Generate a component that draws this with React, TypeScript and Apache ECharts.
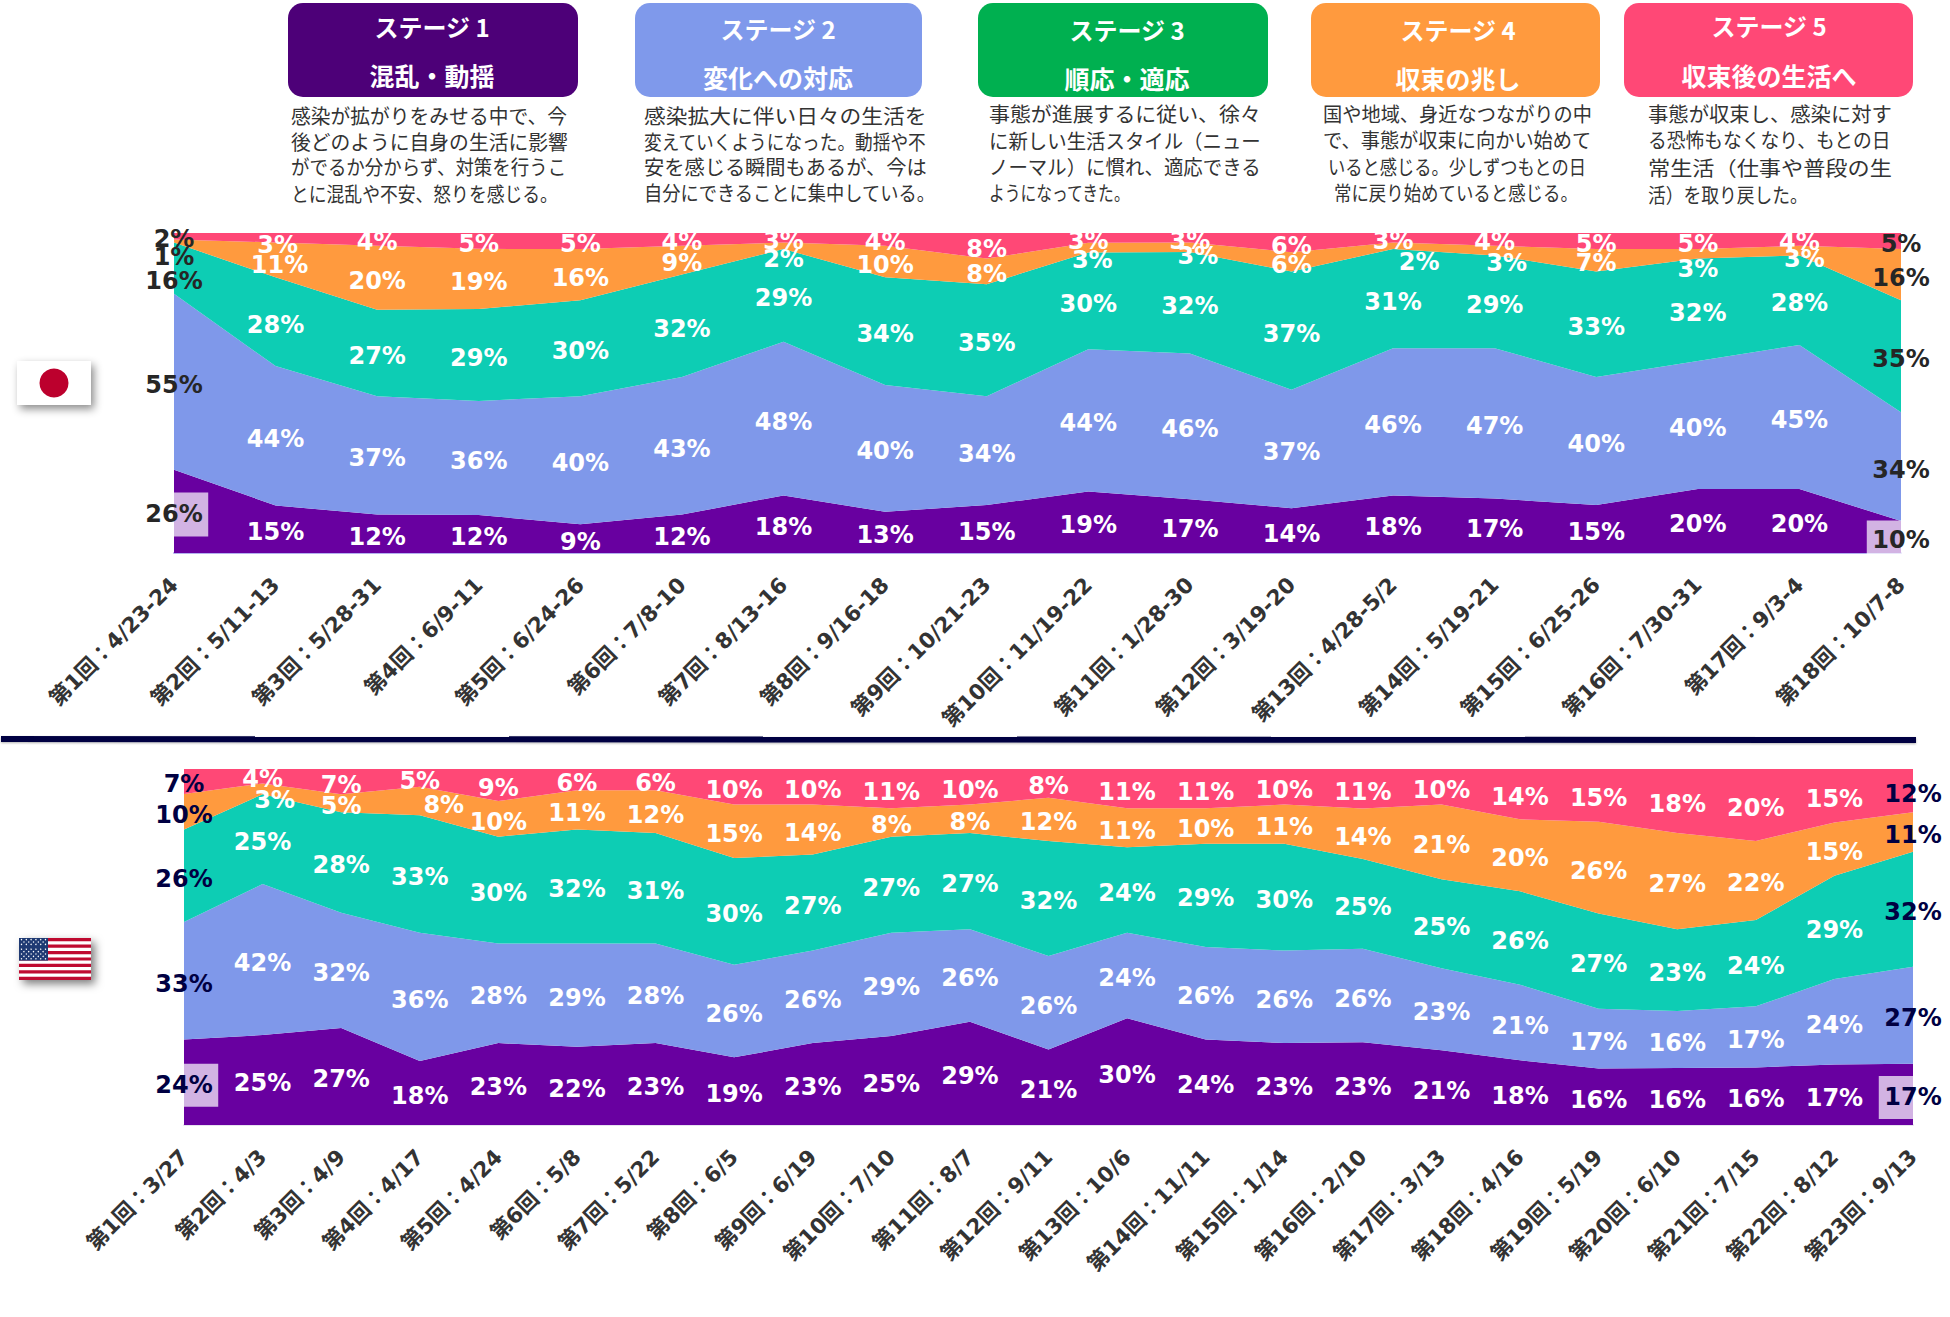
import React, { useEffect, useRef } from "react";
import * as echarts from "echarts";

const jpCategories = ["第1回：4/23-24","第2回：5/11-13","第3回：5/28-31","第4回：6/9-11","第5回：6/24-26","第6回：7/8-10","第7回：8/13-16","第8回：9/16-18","第9回：10/21-23","第10回：11/19-22","第11回：1/28-30","第12回：3/19-20","第13回：4/28-5/2","第14回：5/19-21","第15回：6/25-26","第16回：7/30-31","第17回：9/3-4","第18回：10/7-8"];
const jpStage1 = [26,15,12,12,9,12,18,13,15,19,17,14,18,17,15,20,20,10];
const jpStage2 = [55,44,37,36,40,43,48,40,34,44,46,37,46,47,40,40,45,34];
const jpStage3 = [16,28,27,29,30,32,29,34,35,30,32,37,31,29,33,32,28,35];
const jpStage4 = [1,11,20,19,16,9,2,10,8,3,3,6,2,3,7,3,3,16];
const jpStage5 = [2,3,4,5,5,4,3,4,8,3,3,6,3,4,5,5,4,5];

const usCategories = ["第1回：3/27","第2回：4/3","第3回：4/9","第4回：4/17","第5回：4/24","第6回：5/8","第7回：5/22","第8回：6/5","第9回：6/19","第10回：7/10","第11回：8/7","第12回：9/11","第13回：10/6","第14回：11/11","第15回：1/14","第16回：2/10","第17回：3/13","第18回：4/16","第19回：5/19","第20回：6/10","第21回：7/15","第22回：8/12","第23回：9/13"];
const usStage1 = [24,25,27,18,23,22,23,19,23,25,29,21,30,24,23,23,21,18,16,16,16,17,17];
const usStage2 = [33,42,32,36,28,29,28,26,26,29,26,26,24,26,26,26,23,21,17,16,17,24,27];
const usStage3 = [26,25,28,33,30,32,31,30,27,27,27,32,24,29,30,25,25,26,27,23,24,29,32];
const usStage4 = [10,3,5,8,10,11,12,15,14,8,8,12,11,10,11,14,21,20,26,27,22,15,11];
const usStage5 = [7,4,7,5,9,6,6,10,10,11,10,8,11,11,10,11,10,14,15,18,20,15,12];

const stageColors = ["#6800A0", "#7F98EA", "#0DCDB4", "#FF9A3E", "#FF4876"];

// Hand-placed data labels in the source: "stage-column": [dx, dy] in pixels
const jpLabelNudges: Record<string, number[]> = {
  "2-0": [0, 10], "3-0": [0, 13], "3-1": [4, 2], "4-1": [2, 4], "3-6": [0, 10], "3-9": [4, 9],
  "3-10": [8, 6], "3-12": [26, 13], "3-13": [12, 9], "3-15": [0, 12], "3-16": [5, 5],
};
const usLabelNudges: Record<string, number[]> = { "3-1": [12, 8], "3-3": [24, 1] };

const stageHeads = [
  { title: "ステージ 1", sub: "混乱・動揺", fill: "#4D0078", x: 288, w: 290, ty: 26, sy: 75, cx: 432 },
  { title: "ステージ 2", sub: "変化への対応", fill: "#7F99EB", x: 635, w: 287, ty: 28, sy: 77, cx: 778 },
  { title: "ステージ 3", sub: "順応・適応", fill: "#00B050", x: 978, w: 290, ty: 29, sy: 78, cx: 1127 },
  { title: "ステージ 4", sub: "収束の兆し", fill: "#FF9A3E", x: 1311, w: 289, ty: 29, sy: 78, cx: 1458 },
  { title: "ステージ 5", sub: "収束後の生活へ", fill: "#FF4876", x: 1624, w: 289, ty: 25, sy: 75, cx: 1769 },
];
const stageNotes = [
  { x: 291, y: [115, 141, 167, 193], lines: [["感染が拡がりをみせる中で、今", 277], ["後どのように自身の生活に影響", 277], ["がでるか分からず、対策を行うこ", 277], ["とに混乱や不安、怒りを感じる。", 267]] },
  { x: 644, y: [115, 141, 167, 193], lines: [["感染拡大に伴い日々の生活を", 283], ["変えていくようになった。動揺や不", 283], ["安を感じる瞬間もあるが、今は", 283], ["自分にできることに集中している。", 292]] },
  { x: 989, y: [113, 140, 166, 192], lines: [["事態が進展するに従い、徐々", 272], ["に新しい生活スタイル（ニュー", 272], ["ノーマル）に慣れ、適応できる", 272], ["ようになってきた。", 142]] },
  { x: 1323, y: [113, 139, 166, 192], lines: [["国や地域、身近なつながりの中", 269], ["で、事態が収束に向かい始めて", 269], ["いると感じる。少しずつもとの日", 259, 5], ["常に戻り始めていると感じる。", 244, 11]] },
  { x: 1648, y: [114, 140, 167, 194], lines: [["事態が収束し、感染に対す", 244], ["る恐怖もなくなり、もとの日", 244], ["常生活（仕事や普段の生", 244], ["活）を取り戻した。", 160]] },
];

const CJK = '"Noto Sans CJK JP", sans-serif';
const LATIN = '"DejaVu Sans", "Noto Sans CJK JP", sans-serif';

function buildCountry(
  idx: number,
  stages: number[][],
  categories: string[],
  nudges: Record<string, number[]>,
  edgeColor: string,
  baseDy: number,
  boxes: Record<string, number[]>
) {
  const n = categories.length;
  const totals = categories.map((_, i) => stages.reduce((s, a) => s + a[i], 0));
  const shares = stages.map((a) => a.map((v, i) => (v / totals[i]) * 100));
  const series: any[] = [];
  shares.forEach((vals, s) => {
    series.push({
      type: "line",
      stack: "c" + idx,
      xAxisIndex: idx,
      yAxisIndex: idx,
      data: vals,
      symbol: "none",
      lineStyle: { width: 0 },
      areaStyle: { color: stageColors[s], opacity: 1 },
      itemStyle: { color: stageColors[s] },
      silent: true,
      z: 2,
    });
  });
  shares.forEach((vals, s) => {
    const points = vals.map((v, i) => {
      const below = shares.slice(0, s).reduce((t, a) => t + a[i], 0);
      const nudge = nudges[s + "-" + i] || [0, 0];
      const edge = i === 0 || i === n - 1;
      const box = boxes[s + "-" + i];
      const label: any = {
        color: edge ? edgeColor : "#FFFFFF",
        offset: [nudge[0], nudge[1] + baseDy],
      };
      if (box) {
        label.backgroundColor = "rgba(255,255,255,0.7)";
        label.padding = box;
      }
      return { value: [i, below + v / 2], text: stages[s][i] + "%", label };
    });
    series.push({
      type: "scatter",
      xAxisIndex: idx,
      yAxisIndex: idx,
      data: points,
      symbolSize: 1,
      itemStyle: { color: "rgba(0,0,0,0)", opacity: 1 },
      clip: false,
      silent: true,
      z: 6,
      label: {
        show: true,
        position: "inside",
        fontFamily: LATIN,
        fontSize: 24,
        lineHeight: 24,
        fontWeight: "bold",
        formatter: (p: any) => p.data.text,
      },
    });
  });
  return series;
}

function buildGraphics() {
  const els: any[] = [];
  stageHeads.forEach((h) => {
    els.push({ type: "rect", shape: { x: h.x, y: 3, width: h.w, height: 94, r: 15 }, style: { fill: h.fill } });
    els.push({ type: "text", x: h.cx, y: h.ty, style: { text: h.title, fill: "#FFFFFF", fontSize: 24, fontWeight: "bold", fontFamily: CJK, textAlign: "center", textVerticalAlign: "middle" } });
    els.push({ type: "text", x: h.cx, y: h.sy, style: { text: h.sub, fill: "#FFFFFF", fontSize: 25, fontWeight: "bold", fontFamily: CJK, textAlign: "center", textVerticalAlign: "middle" } });
  });
  const noteSize = 20;
  stageNotes.forEach((note) => {
    note.lines.forEach((ln: any[], i: number) => {
      const text = ln[0] as string;
      const width = ln[1] as number;
      els.push({
        type: "text",
        x: note.x + (ln[2] || 0),
        y: note.y[i],
        scaleX: width / (text.length * noteSize),
        style: { text, fill: "#333333", fontSize: noteSize, fontFamily: CJK, textAlign: "left", textVerticalAlign: "middle" },
      });
    });
  });

  // divider
  els.push({ type: "polygon", shape: { points: [[1, 736], [1916, 737], [1916, 743], [1, 742]] }, style: { fill: "#000042", shadowBlur: 2, shadowOffsetY: 1, shadowColor: "rgba(0,0,0,0.3)" } });

  // Japanese flag
  els.push({ type: "rect", shape: { x: 17, y: 361, width: 74, height: 44 }, style: { fill: "#FFFFFF", shadowBlur: 8, shadowOffsetX: 3, shadowOffsetY: 4, shadowColor: "rgba(0,0,0,0.45)" } });
  els.push({ type: "circle", shape: { cx: 54, cy: 383, r: 14.5 }, style: { fill: "#BC002D" } });

  // US flag
  const fx = 19, fy = 938, fw = 72, fh = 42;
  els.push({ type: "rect", shape: { x: fx, y: fy, width: fw, height: fh }, style: { fill: "#FFFFFF", shadowBlur: 8, shadowOffsetX: 4, shadowOffsetY: 4, shadowColor: "rgba(0,0,0,0.5)" } });
  for (let i = 0; i < 13; i += 2) {
    els.push({ type: "rect", shape: { x: fx, y: fy + (i * fh) / 13, width: fw, height: fh / 13 }, style: { fill: "#BF0A30" } });
  }
  els.push({ type: "rect", shape: { x: fx, y: fy, width: 29, height: (7 * fh) / 13 }, style: { fill: "#1F3A73" } });
  for (let r = 0; r < 9; r++) {
    const cols = r % 2 === 0 ? 6 : 5;
    for (let c = 0; c < cols; c++) {
      els.push({ type: "circle", shape: { cx: fx + 2.5 + (r % 2 === 0 ? 0 : 2.4) + c * 4.8, cy: fy + 1.6 + r * 2.4, r: 0.7 }, style: { fill: "#FFFFFF" } });
    }
  }
  return els;
}

const axisLabelBase = {
  rotate: 45,
  interval: 0,
  fontFamily: LATIN,
  fontSize: 21.5,
  fontWeight: "bold",
  color: "#333333",
  margin: 28,
};

export default function App() {
  const ref = useRef<HTMLDivElement>(null);
  useEffect(() => {
    const chart = echarts.init(ref.current as HTMLDivElement, undefined, { renderer: "svg" });
    const jpSeries = buildCountry(0, [jpStage1, jpStage2, jpStage3, jpStage4, jpStage5], jpCategories, jpLabelNudges, "#262626", 3,
      { "0-0": [11, 5.5, 9, 5.5], "0-17": [11, 5.5, 4, 5.5] });
    const usSeries = buildCountry(1, [usStage1, usStage2, usStage3, usStage4, usStage5], usCategories, usLabelNudges, "#000042", 3,
      { "0-0": [11, 5.5, 8, 5.5], "0-22": [11, 5.5, 8, 5.5] });
    chart.setOption({
      animation: false,
      backgroundColor: "#FFFFFF",
      grid: [
        { left: 174, top: 233, width: 1727, height: 320 },
        { left: 184, top: 769, width: 1729, height: 356 },
      ],
      xAxis: [
        { type: "category", gridIndex: 0, data: jpCategories, boundaryGap: false, axisTick: { show: false }, axisLine: { lineStyle: { color: "#B4B0F0", width: 2 } }, axisLabel: axisLabelBase, splitLine: { show: false } },
        { type: "category", gridIndex: 1, data: usCategories, boundaryGap: false, axisTick: { show: false }, axisLine: { lineStyle: { color: "#E6E2EE", width: 2 } }, axisLabel: axisLabelBase, splitLine: { show: false } },
      ],
      yAxis: [
        { type: "value", gridIndex: 0, min: 0, max: 100, show: false },
        { type: "value", gridIndex: 1, min: 0, max: 100, show: false },
      ],
      series: [...jpSeries, ...usSeries],
      graphic: { elements: buildGraphics() },
    });
    return () => chart.dispose();
  }, []);
  return <div ref={ref} style={{ position: "fixed", left: 0, top: 0, width: 1950, height: 1317 }} />;
}
